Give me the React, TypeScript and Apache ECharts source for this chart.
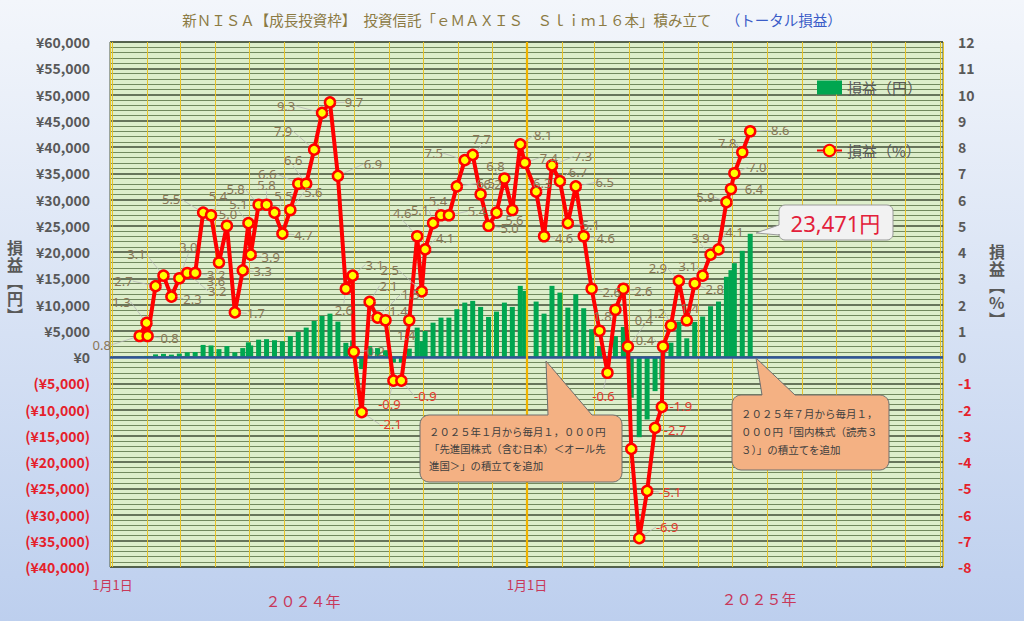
import React, { useEffect, useRef } from 'react';
import * as echarts from 'echarts';

const dates = [
  '2024-01-25','2024-01-31','2024-02-01','2024-02-08','2024-02-15','2024-02-22','2024-02-29',
  '2024-03-07','2024-03-14','2024-03-21','2024-03-28','2024-04-04','2024-04-11','2024-04-18',
  '2024-04-25','2024-04-30','2024-05-02','2024-05-09','2024-05-16','2024-05-23','2024-05-30',
  '2024-06-06','2024-06-13','2024-06-20','2024-06-27','2024-07-04','2024-07-11','2024-07-18',
  '2024-07-25','2024-07-31','2024-08-01','2024-08-08','2024-08-15','2024-08-22','2024-08-29',
  '2024-09-05','2024-09-12','2024-09-19','2024-09-26','2024-09-30','2024-10-03','2024-10-10',
  '2024-10-17','2024-10-24','2024-10-31','2024-11-07','2024-11-14','2024-11-21','2024-11-28',
  '2024-12-05','2024-12-12','2024-12-19','2024-12-26','2024-12-30',
  '2025-01-09','2025-01-16','2025-01-23','2025-01-30','2025-02-06','2025-02-13','2025-02-20',
  '2025-02-27','2025-03-06','2025-03-13','2025-03-20','2025-03-27','2025-03-31','2025-04-03',
  '2025-04-10','2025-04-17','2025-04-24','2025-04-30','2025-05-01','2025-05-08','2025-05-15',
  '2025-05-22','2025-05-29','2025-06-05','2025-06-12','2025-06-19','2025-06-26','2025-06-30',
  '2025-07-03','2025-07-10','2025-07-17'
];

const pctValues = [
  0.8, 1.3, 0.8, 2.7, 3.1, 2.3, 3.0,
  3.2, 3.2, 5.5, 5.4, 3.6, 5.0, 1.7,
  3.3, 5.1, 3.9, 5.8, 5.8, 5.5, 4.7,
  5.6, 6.6, 6.6, 7.9, 9.3, 9.7, 6.9,
  2.6, 3.1, 0.2, -2.1, 2.1, 1.5, 1.4,
  -0.9, -0.9, 1.4, 4.6, 2.5, 4.1, 5.1,
  5.4, 5.4, 6.5, 7.5, 7.7, 6.2, 5.0,
  5.5, 6.8, 5.6, 8.1, 7.4,
  6.3, 4.6, 7.3, 6.7, 5.1, 6.5, 4.6,
  2.6, 1.0, -0.6, 1.8, 2.6, 0.4, -3.5,
  -6.9, -5.1, -2.7, -1.9, 0.4, 1.2, 2.9,
  1.4, 2.8, 3.1, 3.9, 4.1, 5.9, 6.4,
  7.0, 7.8, 8.6
];

const yenValues = [
  100, 200, 150, 500, 600, 450, 650,
  900, 950, 2300, 2200, 1500, 2100, 900,
  1700, 2800, 2200, 3300, 3400, 3200, 3000,
  4000, 4800, 5600, 6870, 7820, 8260, 6740,
  2700, 3150, 250, -2300, 2100, 1700, 1300,
  -1050, -1100, 1600, 5600, 3000, 4960, 6540,
  7500, 7500, 9100, 10360, 10690, 9540, 7630,
  8650, 10360, 9540, 13550, 12600,
  10560, 8260, 13550, 12270, 9410, 11960, 9290,
  5290, 2100, -1300, 4000, 5730, 800, -7760,
  -15270, -11900, -6500, -4300, 800, 2730, 6740,
  3560, 6680, 7700, 9670, 10560, 15270, 16540,
  17880, 20230, 23471
];

const titleMain = '新ＮＩＳＡ【成長投資枠】　投資信託「ｅＭＡＸＩＳ　Ｓｌｉｍ１６本」積み立て　';
const titleSub = '（トータル損益）';
const barName = '損益（円）';
const lineName = '損益（%）';
const yearLabels = ['２０２４年', '２０２５年'];
const janLabel = '1月1日';
const leftAxisName = '損\n益\n︻\n円\n︼';
const rightAxisName = '損\n益\n︻\n%\n︼';
const note1 = '２０２５年１月から毎月１，０００円\n「先進国株式（含む日本）＜オール先\n進国＞」の積立てを追加';
const note2 = '２０２５年７月から毎月１，\n０００円「国内株式（読売３\n３）」の積立てを追加';
const lastLabel = '23,471円';

// label placement (offset of each percentage label from its point; null = not shown)
const labelOffsets: ([number, number] | null)[] = [
  [-38, 9], [-25, -21], [22, 2], [-32, -5], [-27, -22], [21, 2], [9, -31],
  [30, 18], [21, 2], [-32, -14], [7, -19], [-3, 18], [1, -12], [21, 1],
  [20, 1], [-10, -19], [20, 2], [-23, -16], [0, -20], [9, -17], [21, 1],
  [23, -18], [-31, -10], [-13, -24], [-31, -19], [-36, -7], [24, 0], [35, -12],
  [-2, 21], [22, -11], [22, -1], [29, 12], [19, -16], [33, -24], [13, -9],
  [-4, 23], [24, 15], [-3, 15], [-15, -23], [-32, -21], [20, -11], [-13, -13],
  [-3, -14], [28, -4], [29, -3], [-31, -7], [9, -16], [12, -10], [21, 2],
  null, [-9, -13], [2, 10], [23, -9], [24, -5],
  [6, -9], [20, 2], [31, -9], [18, -9], [23, 2], [29, -4], [22, 2],
  [20, 3], null, [-4, 23], [-13, 6], [20, 2], [16, -27], null,
  [28, -11], [23, 1], [20, 2], [19, -1], [-18, -7], [-15, -13], [-21, -13],
  [3, -12], [20, 5], [-15, -10], [-10, -17], [16, -17], [-21, -5], [23, 0],
  [23, -6], [-15, -9], [30, -1]
];

const FONT = '"Noto Sans CJK JP", "Noto Sans", sans-serif';
const POS_LABEL = '#8a7656';
const NEG_LABEL = '#e53a2c';

function calloutPoints(
  x1: number, y1: number, x2: number, y2: number, r: number,
  tailTop?: [number, [number, number], number],
  tailLeft?: [number, [number, number], number]
): number[][] {
  const pts: number[][] = [];
  const arc = (cx: number, cy: number, a0: number, a1: number) => {
    for (let k = 0; k <= 5; k++) {
      const a = ((a0 + (a1 - a0) * (k / 5)) * Math.PI) / 180;
      pts.push([cx + r * Math.cos(a), cy + r * Math.sin(a)]);
    }
  };
  arc(x1 + r, y1 + r, 180, 270);
  if (tailTop) {
    pts.push([tailTop[0], y1]);
    pts.push(tailTop[1]);
    pts.push([tailTop[2], y1]);
  }
  arc(x2 - r, y1 + r, 270, 360);
  arc(x2 - r, y2 - r, 0, 90);
  arc(x1 + r, y2 - r, 90, 180);
  if (tailLeft) {
    pts.push([x1, tailLeft[2]]);
    pts.push(tailLeft[1]);
    pts.push([x1, tailLeft[0]]);
  }
  return pts;
}

const fmtYen = (v: number) => Math.abs(v).toLocaleString('en-US');

export default function App() {
  const ref = useRef<HTMLDivElement>(null);

  useEffect(() => {
    if (!ref.current) return;
    const chart = echarts.init(ref.current, undefined, { renderer: 'svg' });

    const lineData = dates.map((d, i) => {
      const off = labelOffsets[i];
      const v = pctValues[i];
      return {
        value: [d, v],
        label: off
          ? { show: true, color: v < 0 ? NEG_LABEL : POS_LABEL }
          : { show: false },
      };
    });
    const barData = dates.map((d, i) => [d, yenValues[i]]);

    const option: any = {
      animation: false,
      backgroundColor: new echarts.graphic.LinearGradient(0, 0, 0, 1, [
        { offset: 0, color: '#f3f6fb' },
        { offset: 1, color: '#bdcfee' },
      ]),
      title: {
        text: `{a|${titleMain}}{b|${titleSub}}`,
        left: 'center',
        top: 7,
        textStyle: {
          fontWeight: 'normal',
          rich: {
            a: { fontSize: 14.5, color: '#8c7b44', fontFamily: FONT, fontWeight: 'normal' },
            b: { fontSize: 14.5, color: '#3a5cc8', fontFamily: FONT, fontWeight: 'normal' },
          },
        },
      },
      legend: {
        orient: 'vertical',
        left: 811,
        top: 75,
        itemWidth: 25,
        itemHeight: 14,
        itemGap: 48,
        textStyle: { fontSize: 15, color: '#595959', fontFamily: FONT },
        data: [{ name: barName, icon: 'rect' }, { name: lineName }],
      },
      grid: {
        left: 110,
        right: 81,
        top: 42,
        bottom: 54,
        show: true,
        backgroundColor: '#ddeecb',
        borderColor: '#4d5a44',
        borderWidth: 1,
      },
      xAxis: {
        type: 'time',
        min: new Date(2024, 0, 1).getTime(),
        max: new Date(2026, 0, 1).getTime(),
        splitNumber: 24,
        minInterval: 28 * 86400000,
        maxInterval: 31 * 86400000,
        axisLine: { onZero: false, show: false },
        axisTick: { show: false },
        axisLabel: {
          show: true,
          interval: 0,
          showMinLabel: true,
          showMaxLabel: false,
          margin: 11,
          color: '#c8385a',
          fontSize: 13,
          fontFamily: FONT,
          formatter: (value: number) => {
            const d = new Date(value);
            return d.getMonth() === 0 && d.getDate() === 1 && d.getFullYear() < 2026 ? janLabel : '';
          },
        },
        splitLine: { show: true, lineStyle: { color: '#e6c229', width: 1 } },
      },
      yAxis: [
        {
          type: 'value',
          position: 'left',
          min: -40000,
          max: 60000,
          interval: 5000,
          axisLine: { show: false },
          axisTick: { show: false },
          axisLabel: {
            margin: 20,
            formatter: (v: number) => (v < 0 ? `{n|(¥${fmtYen(v)})}` : `{p|¥${fmtYen(v)}}`),
            rich: {
              n: { color: '#e5202a', fontSize: 14, fontWeight: 'bold', fontFamily: FONT },
              p: { color: '#595959', fontSize: 14, fontWeight: 'bold', fontFamily: FONT },
            },
          },
          splitLine: { show: true, lineStyle: { color: '#3f4d36', width: 1.5 } },
          minorTick: { show: false, splitNumber: 5 },
          minorSplitLine: { show: true, lineStyle: { color: '#72895f', width: 1 } },
        },
        {
          type: 'value',
          position: 'right',
          min: -8,
          max: 12,
          interval: 1,
          axisLine: { show: false },
          axisTick: { show: false },
          splitLine: { show: false },
          axisLabel: {
            margin: 15,
            formatter: (v: number) => (v < 0 ? `{n|${v}}` : `{p|${v}}`),
            rich: {
              n: { color: '#e5202a', fontSize: 14, fontWeight: 'bold', fontFamily: FONT },
              p: { color: '#595959', fontSize: 14, fontWeight: 'bold', fontFamily: FONT },
            },
          },
        },
      ],
      series: [
        {
          type: 'bar',
          name: barName,
          yAxisIndex: 0,
          barWidth: 5,
          data: barData,
          itemStyle: { color: '#00a650' },
          z: 2,
          markLine: {
            silent: true,
            symbol: ['none', 'none'],
            label: { show: false },
            data: [
              { yAxis: 0, lineStyle: { color: '#2f5597', width: 2.5, type: 'solid' } },
              { xAxis: new Date(2025, 0, 1).getTime(), lineStyle: { color: '#f0b400', width: 2.2, type: 'solid' } },
            ],
          },
        },
        {
          type: 'line',
          name: lineName,
          yAxisIndex: 1,
          data: lineData,
          symbol: 'circle',
          symbolSize: 10,
          showAllSymbol: true,
          lineStyle: { color: '#ff0000', width: 4 },
          itemStyle: { color: '#ffff00', borderColor: '#ff0000', borderWidth: 2.5 },
          z: 5,
          label: {
            show: true,
            position: 'inside',
            fontSize: 13,
            fontFamily: '"Noto Sans", sans-serif',
            formatter: (p: any) => Number(p.value[1]).toFixed(1),
          },
          labelLine: { show: true, lineStyle: { color: '#b8b8b8', width: 0.8 } },
          labelLayout: (params: any) => {
            const o = labelOffsets[params.dataIndex];
            if (!o) return {};
            return { dx: o[0], dy: o[1] };
          },
        },
      ],
      graphic: [
        {
          type: 'text',
          left: 7,
          top: 238,
          style: { text: leftAxisName, fontSize: 16, fontWeight: 'bold', fill: '#595959', lineHeight: 17, fontFamily: FONT, align: 'center' },
        },
        {
          type: 'text',
          left: 989,
          top: 242,
          style: { text: rightAxisName, fontSize: 16, fontWeight: 'bold', fill: '#595959', lineHeight: 17, fontFamily: FONT, align: 'center' },
        },
        {
          type: 'text',
          x: 303,
          y: 600,
          style: { text: yearLabels[0], fontSize: 15, fill: '#c8385a', fontFamily: FONT, align: 'center', verticalAlign: 'middle' },
        },
        {
          type: 'text',
          x: 759,
          y: 598,
          style: { text: yearLabels[1], fontSize: 15, fill: '#c8385a', fontFamily: FONT, align: 'center', verticalAlign: 'middle' },
        },
        {
          type: 'polygon',
          z: 100,
          shape: { points: calloutPoints(420, 415, 622, 482, 9, [548, [546, 361], 592]) },
          style: { fill: '#f4b183', stroke: '#6f6f6f', lineWidth: 1 },
        },
        {
          type: 'text',
          z: 101,
          x: 429,
          y: 423,
          style: { text: note1, fontSize: 10.4, lineHeight: 17, fill: '#404040', fontFamily: FONT },
        },
        {
          type: 'polygon',
          z: 100,
          shape: { points: calloutPoints(732, 395, 889, 470, 9, [762, [756, 358], 795]) },
          style: { fill: '#f4b183', stroke: '#6f6f6f', lineWidth: 1 },
        },
        {
          type: 'text',
          z: 101,
          x: 741,
          y: 404,
          style: { text: note2, fontSize: 10.5, lineHeight: 18, fill: '#404040', fontFamily: FONT },
        },
        {
          type: 'polygon',
          z: 100,
          shape: { points: calloutPoints(779, 205, 893, 240, 6, undefined, [225, [756, 233], 235]) },
          style: { fill: '#f2f2f2', stroke: '#9a9a9a', lineWidth: 1 },
        },
        {
          type: 'text',
          z: 101,
          x: 836,
          y: 223,
          style: { text: lastLabel, fontSize: 22, fill: '#e3203a', fontFamily: '"Noto Sans", sans-serif', align: 'center', verticalAlign: 'middle' },
        },
      ],
    };

    chart.setOption(option);
    return () => chart.dispose();
  }, []);

  return <div ref={ref} style={{ position: 'fixed', left: 0, top: 0, width: 1024, height: 621 }} />;
}
